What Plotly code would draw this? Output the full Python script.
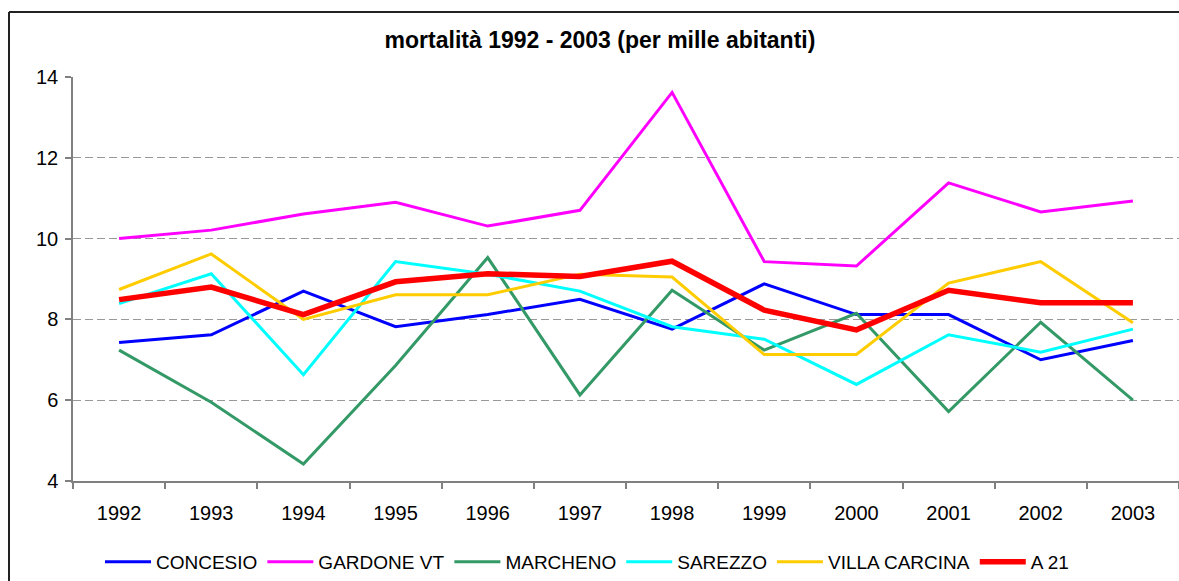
import plotly.graph_objects as go

years = ["1992", "1993", "1994", "1995", "1996", "1997", "1998", "1999", "2000", "2001", "2002", "2003"]

concesio = [7.43, 7.62, 8.70, 7.82, 8.12, 8.50, 7.76, 8.88, 8.12, 8.12, 7.00, 7.48]
gardone_vt = [10.00, 10.21, 10.61, 10.90, 10.31, 10.70, 13.62, 9.43, 9.32, 11.38, 10.66, 10.93]
marcheno = [7.24, 5.95, 4.42, 6.86, 9.53, 6.13, 8.72, 7.24, 8.15, 5.72, 7.93, 6.00]
sarezzo = [8.39, 9.13, 6.63, 9.43, 9.12, 8.70, 7.82, 7.51, 6.39, 7.62, 7.19, 7.76]
villa_carcina = [8.74, 9.62, 8.00, 8.61, 8.61, 9.12, 9.05, 7.13, 7.13, 8.90, 9.43, 7.92]
a21 = [8.49, 8.80, 8.12, 8.93, 9.13, 9.06, 9.44, 8.23, 7.74, 8.72, 8.41, 8.41]

series_names = ["CONCESIO", "GARDONE VT", "MARCHENO", "SAREZZO", "VILLA CARCINA", "A 21"]
series_values = [concesio, gardone_vt, marcheno, sarezzo, villa_carcina, a21]
series_colors = ["#0000FF", "#FF00FF", "#339966", "#00FFFF", "#FFCC00", "#FF0000"]
series_widths = [3, 3, 3, 3, 3, 5.5]

FONT = "Liberation Sans, Arial, sans-serif"

fig = go.Figure()
for name, vals, col, w in zip(series_names, series_values, series_colors, series_widths):
    fig.add_trace(go.Scatter(
        x=years, y=vals, name=name, mode="lines",
        line=dict(color=col, width=w),
    ))

W, H = 1179, 581
L, R, T, B = 73, 0, 77, 100
pw = W - L - R
ph = H - T - B

def px_to_paper_x(px):
    return (px - L) / pw

def px_to_paper_y(py):
    return (H - B - py) / ph

border = dict(color="#222222", width=2)

fig.update_layout(
    width=W, height=H,
    margin=dict(l=L, r=R, t=T, b=B, pad=0),
    paper_bgcolor="white",
    plot_bgcolor="white",
    font=dict(family=FONT, size=20, color="black"),
    title=dict(
        text="<b>mortalità 1992 - 2003 (per mille abitanti)</b>",
        x=600 / W, xanchor="center", xref="container",
        y=1 - 40 / H, yanchor="middle", yref="container",
        font=dict(family=FONT, size=23, color="black"),
    ),
    xaxis=dict(
        type="category",
        range=[-0.5, len(years) - 0.5],
        showline=True, linecolor="#808080", linewidth=1.5,
        ticks="outside", tickson="boundaries", ticklen=6, tickcolor="#808080", tickwidth=1.5,
        showgrid=False, zeroline=False,
        tickfont=dict(family=FONT, size=20, color="black"),
        ticklabelstandoff=13,
    ),
    yaxis=dict(
        range=[4, 14], dtick=2, tick0=4,
        showline=True, linecolor="#808080", linewidth=1.5,
        ticks="outside", ticklen=6, tickcolor="#808080", tickwidth=1.5,
        showgrid=True, gridcolor="#999999", gridwidth=1, griddash="8px,4px",
        zeroline=False,
        tickfont=dict(family=FONT, size=20, color="black"),
        ticklabelstandoff=3,
    ),
    legend=dict(
        orientation="h",
        x=px_to_paper_x(100), xanchor="left",
        y=px_to_paper_y(562), yanchor="middle",
        font=dict(family=FONT, size=19, color="black"),
        bgcolor="rgba(0,0,0,0)",
        itemwidth=46,
    ),
    shapes=[
        dict(type="line", xref="paper", yref="paper",
             x0=px_to_paper_x(9), x1=px_to_paper_x(1179),
             y0=px_to_paper_y(12), y1=px_to_paper_y(12),
             line=border, layer="below"),
        dict(type="line", xref="paper", yref="paper",
             x0=px_to_paper_x(9), x1=px_to_paper_x(9),
             y0=px_to_paper_y(12), y1=px_to_paper_y(581),
             line=border, layer="below"),
    ],
)

fig.write_html(
    "out.html",
    config={"displayModeBar": False},
    post_script=(
        "document.body.style.margin='0px';"
        "document.body.style.overflow='hidden';"
        "document.documentElement.style.overflow='hidden';"
    ),
)
